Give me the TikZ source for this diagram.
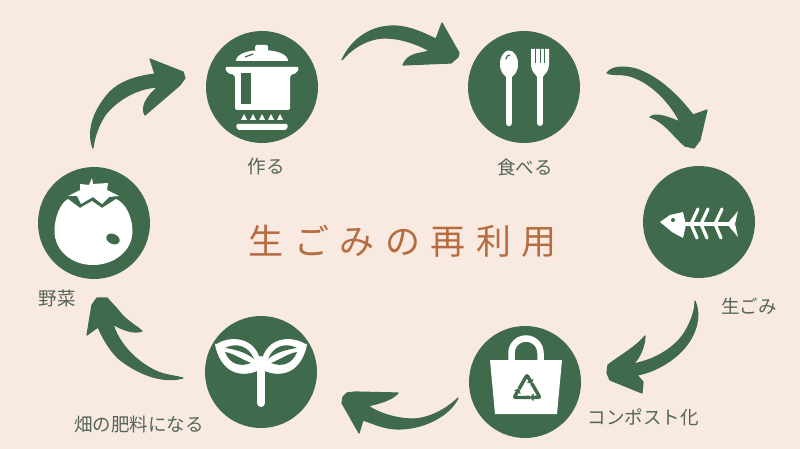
\documentclass[tikz,border=0pt]{standalone}
\usepackage{fontspec}
\usetikzlibrary{arrows.meta}
\newfontfamily\cjk{Noto Sans CJK JP}
\newfontfamily\cjktitle[LetterSpace=30]{Noto Sans CJK JP}
\definecolor{bgcream}{HTML}{F8E9E1}
\definecolor{leafgreen}{HTML}{3F6A4C}
\definecolor{labelgray}{HTML}{55655A}
\definecolor{titlebrown}{HTML}{B66C3F}
\tikzset{
  iconcircle/.style={circle,fill=leafgreen,minimum size=112pt,inner sep=0pt},
  looplabel/.style={text=labelgray,font=\cjk\fontsize{18.5}{20}\selectfont,inner sep=0pt},
  looparrow/.style={fill=leafgreen,draw=leafgreen,line width=1.2pt,line join=round},
  whitepart/.style={fill=white},
  darkpart/.style={fill=leafgreen}
}
\begin{document}
\begin{tikzpicture}[x=1pt,y=-1pt]
\fill[bgcream] (0,0) rectangle (800,449);
\useasboundingbox (0,0) rectangle (800,449);
\node[iconcircle] (pot) at (262,87) {};
\node[iconcircle] (cutlery) at (524,87) {};
\node[iconcircle] (fish) at (699,222) {};
\node[iconcircle] (bag) at (525,382) {};
\node[iconcircle] (sprout) at (261,372) {};
\node[iconcircle] (tomato) at (94,223) {};
\node[looplabel] (potlabel) at (266,166) {作る};
\node[looplabel] (cutlerylabel) at (525,167) {食べる};
\node[looplabel] (fishlabel) at (749,306) {生ごみ};
\node[looplabel] (baglabel) at (643,417) {コンポスト化};
\node[looplabel] (sproutlabel) at (139,424) {畑の肥料になる};
\node[looplabel] (tomatolabel) at (57,298) {野菜};
\node[text=titlebrown,font=\cjktitle\fontsize{35}{40}\selectfont,inner sep=0pt] (title) at (402.5,241) {生ごみの再利用};
% arrows
\draw[looparrow] (342,60) .. controls (352,38) and (372,26) .. (393,26) .. controls (410,26) and (425,34) .. (436,39) -- (442,23) -- (459,53) -- (458,57) -- (451,63) -- (403,65) .. controls (406,58) and (410,56) .. (416,54) -- (430,51) .. controls (415,43) and (400,38) .. (385,38) .. controls (368,38) and (352,48) .. (342,60) -- cycle;
\draw[looparrow] (607,73) .. controls (612,66) and (625,66) .. (636,69) .. controls (660,77) and (680,98) .. (693,115) -- (707,110) -- (700,140) -- (694,148) -- (685,146) .. controls (675,138) and (665,122) .. (650,117) .. controls (656,112) and (670,118) .. (680,122) .. controls (668,98) and (645,78) .. (625,75) .. controls (617,74) and (610,75) .. (607,73) -- cycle;
\draw[looparrow] (695,301) .. controls (701,315) and (697,332) .. (686,346) .. controls (675,360) and (655,372) .. (637,375) -- (643,382) -- (642,393) -- (610,380) -- (607,373) -- (608,365) .. controls (618,357) and (635,348) .. (645,336) .. controls (645,345) and (640,358) .. (633,364) .. controls (655,360) and (675,348) .. (685,332) .. controls (692,320) and (695,310) .. (695,301) -- cycle;
\draw[looparrow] (458,398) .. controls (450,415) and (425,429) .. (398,429) .. controls (385,429) and (375,424) .. (363,420) -- (359,433) -- (342,403) -- (343,397) -- (347,393) -- (355,392) -- (398,393) .. controls (392,400) and (380,403) .. (368,406) .. controls (380,414) and (398,419) .. (412,419) .. controls (430,419) and (448,408) .. (458,398) -- cycle;
\draw[looparrow] (183,378) .. controls (160,384) and (135,372) .. (118,358) .. controls (108,348) and (102,336) .. (98,327) -- (87,335) -- (92,305) -- (97,298) -- (107,298) -- (118,310) .. controls (125,320) and (135,325) .. (142,331) .. controls (135,334) and (122,330) .. (113,324) .. controls (118,342) and (135,362) .. (158,372) .. controls (165,375) and (175,376) .. (183,378) -- cycle;
\draw[looparrow] (93,148) .. controls (86,130) and (95,108) .. (110,92) .. controls (122,80) and (140,76) .. (155,74) -- (150,59) -- (183,72) -- (185,78) -- (180,85) -- (145,115) .. controls (141,108) and (145,98) .. (158,87) .. controls (135,88) and (115,102) .. (105,115) .. controls (98,126) and (94,138) .. (93,148) -- cycle;
% pot
\begin{scope}[shift={(pot.center)}]
\fill[whitepart,rounded corners=1.5pt] (-7,-36) -- (-7,-42) -- (6,-42) -- (6,-36) -- cycle;
\fill[whitepart] (-26,-26) .. controls (-26,-33) and (-14,-37) .. (0,-37) .. controls (14,-37) and (26,-33) .. (26,-26) -- cycle;
\draw[leafgreen,line width=1.2pt] (-17,-30) -- (-9,-33);
\fill[whitepart,rounded corners=2pt] (-37,-20) -- (37,-20) -- (35,-14) -- (28,-12) -- (28,23) -- (-27,23) -- (-27,-12) -- (-35,-14) -- cycle;
\fill[darkpart] (-21,-14) rectangle (-11,17);
\foreach \burner in {-18,-9,0,9,18}
  \fill[whitepart] (\burner-3,33) -- (\burner,27) -- (\burner+3,33) -- cycle;
\fill[whitepart,rounded corners=2pt] (-26,37) -- (26,37) -- (25,43) -- (-25,43) -- cycle;
\end{scope}
% spoon and fork
\begin{scope}[shift={(cutlery.center)}]
\fill[whitepart] (-15,-23) ellipse (9 and 13.5);
\draw[white,line width=6.5pt,line cap=round] (-15,-15) -- (-15,36);
\draw[leafgreen,line width=1.2pt,line cap=round] (-18,-28) .. controls (-18,-31) and (-16,-32) .. (-14,-32);
\fill[whitepart] (7,-38) -- (25,-38) -- (25,-22) .. controls (25,-15) and (20,-13) .. (19,-10) -- (13,-10) .. controls (12,-13) and (7,-15) .. (7,-22) -- cycle;
\draw[white,line width=6pt,line cap=round] (16,-12) -- (16,36);
\foreach \gap in {11.5,16,20.5}
  \draw[leafgreen,line width=1pt] (\gap,-38) -- (\gap,-24);
\end{scope}
% fish bones
\begin{scope}[shift={(fish.center)}]
\fill[whitepart] (-39,0) -- (-29,-7) -- (-16,-10) -- (-13,3) -- (-16,16) -- (-27,10) -- cycle;
\fill[darkpart] (-26,-2) circle (2);
\draw[white,line width=3.2pt] (-15,2) -- (30,2);
\fill[whitepart] (28,2) -- (39,-11) -- (36,2) -- (39,15) -- cycle;
\foreach \rib in {0,10,24}
  \draw[white,line width=3.2pt,line cap=round] (\rib-1,-13) -- (\rib-8,2) -- (\rib-2,16);
\end{scope}
% bag
\begin{scope}[shift={(bag.center)}]
\draw[white,line width=6.5pt] (-13.5,-20) -- (-13.5,-29) arc (180:360:14.5) -- (15.5,-20);
\fill[whitepart] (-35,-22) -- (37,-22) -- (32,32) -- (-30,32) -- cycle;
\foreach \ang in {0,120,240}
  \draw[leafgreen,line width=3.4pt,rounded corners=2pt,-{Triangle[length=4pt,width=7.5pt]},shift={(2,8)},rotate=\ang] (-8,-1) -- (0,-15) -- (5,-6);
\end{scope}
% sprout
\begin{scope}[shift={(sprout.center)}]
\foreach \side in {1,-1}{
  \begin{scope}[xscale=\side]
  \fill[whitepart,rounded corners=2pt] (-46,-27) .. controls (-30,-37) and (-5,-35) .. (0,-8) -- (0,-3) .. controls (-15,5) and (-38,5) .. (-46,-27) -- cycle;
  \fill[darkpart] (-36,-24) .. controls (-25,-30) and (-12,-26) .. (-7,-13) .. controls (-15,-20) and (-28,-23) .. (-36,-24) -- cycle;
  \fill[darkpart] (-36,-20) .. controls (-28,-19) and (-18,-12) .. (-10,-9) .. controls (-20,-5) and (-31,-7) .. (-36,-20) -- cycle;
  \end{scope}
}
\draw[white,line width=8pt,line cap=round] (0,-12) -- (0,31);
\end{scope}
% tomato
\begin{scope}[shift={(tomato.center)}]
\fill[whitepart] (-26,-24) .. controls (-34,-20) and (-39.5,-5) .. (-39.5,8) .. controls (-39.5,28) and (-22,42) .. (-1,42) .. controls (20,42) and (38.5,28) .. (38.5,8) .. controls (38.5,-5) and (32,-20) .. (22,-24) -- (8,-15) -- (-2,-22) -- (-14,-15) -- cycle;
\fill[whitepart] (-2,-45) -- (-1,-39) -- (14,-40) -- (13,-33) -- (25,-27) -- (15,-26) -- (8,-19) -- (-1,-26) -- (-13,-19) -- (-17,-27) -- (-26,-27) -- (-14,-33) -- (-14,-39) -- (-5,-38) -- cycle;
\fill[darkpart,rotate around={-25:(19,16)}] (19,16) ellipse (7 and 5);
\end{scope}
\end{tikzpicture}
\end{document}
